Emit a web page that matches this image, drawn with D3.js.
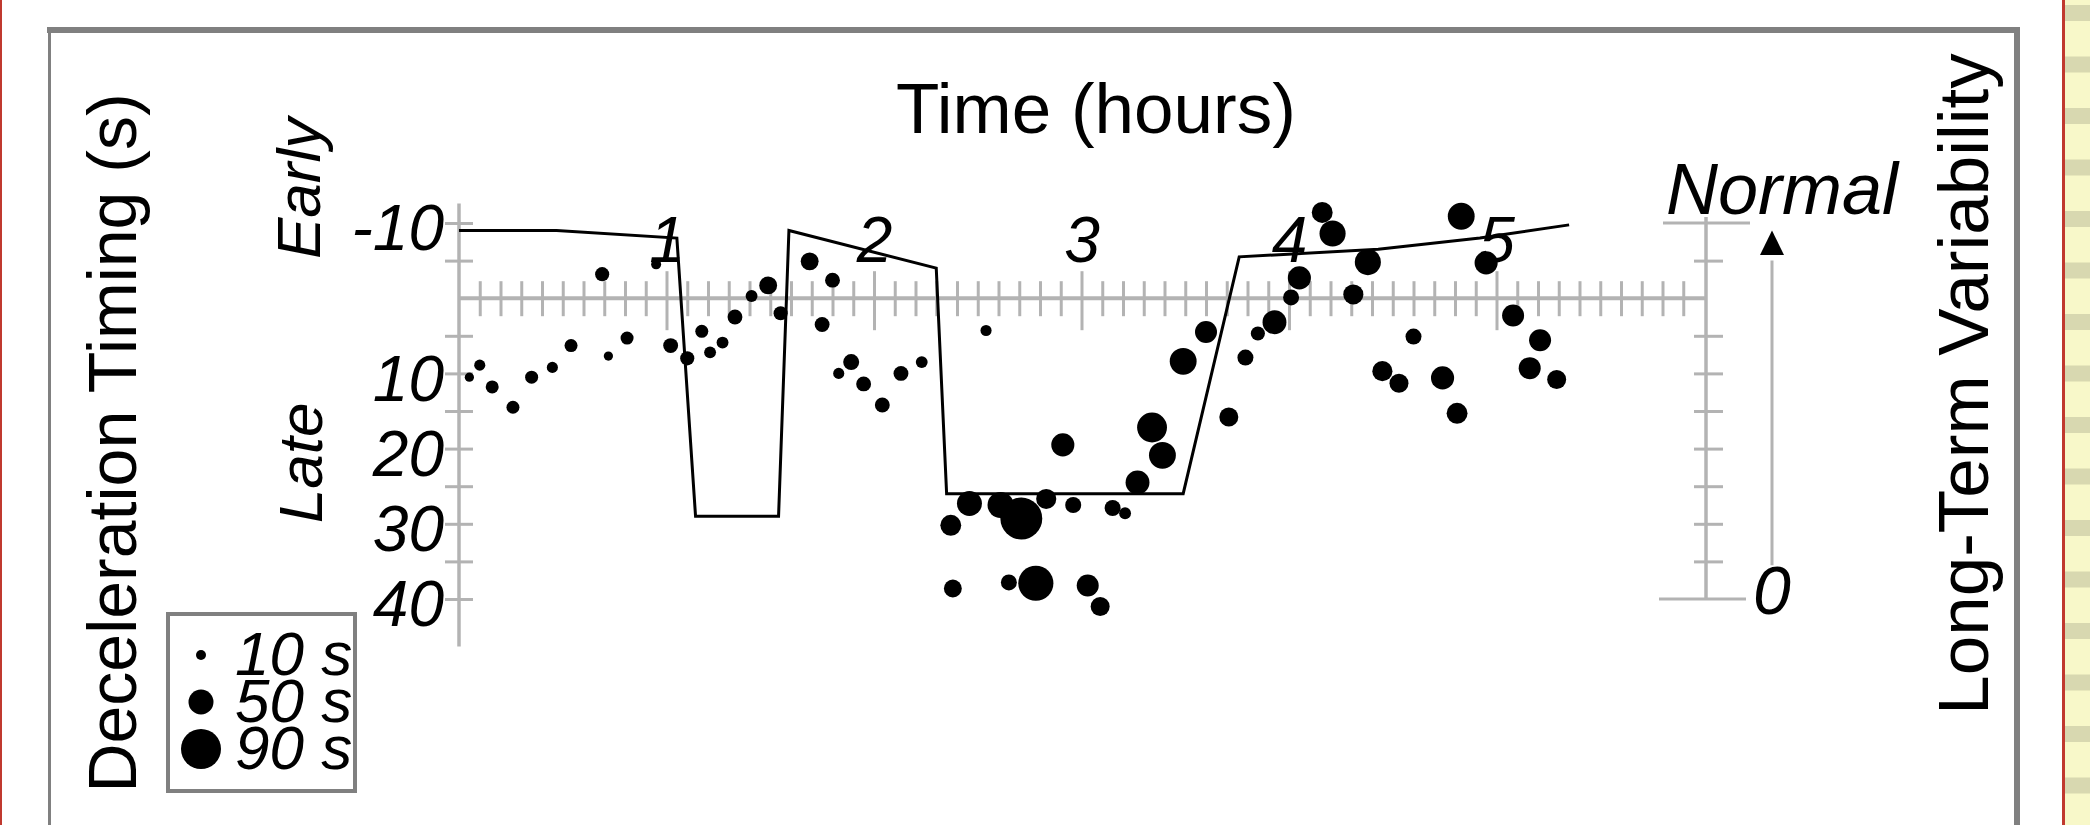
<!DOCTYPE html>
<html>
<head>
<meta charset="utf-8">
<script src="https://cdn.jsdelivr.net/npm/d3@7"></script>
<style>
  body { margin: 0; background: #fff; }
  svg text { font-family: "Liberation Sans", Arial, sans-serif; fill: #000; }
</style>
</head>
<body>
<svg id="chart" width="2090" height="825"></svg>
<script>
// hour labels on the time axis, labelled timing ticks, legend sizes
const hourLabels = [1, 2, 3, 4, 5];
const timingLabels = [-10, 10, 20, 30, 40];
const legendDurations = [10, 50, 90];

// decelerations: time (h), timing (s), duration (s)
const decelTime = [0.05, 0.10, 0.16, 0.26, 0.35, 0.45, 0.54, 0.69, 0.72, 0.81, 0.95,
  1.02, 1.10, 1.17, 1.21, 1.27, 1.33, 1.41, 1.49, 1.55, 1.69, 1.75, 1.80, 1.83, 1.89,
  1.95, 2.04, 2.13, 2.23, 2.54, 2.37, 2.46, 2.61, 2.71, 2.83, 2.96, 3.15, 3.21, 2.91,
  2.38, 2.65, 2.78, 3.03, 3.09, 3.27, 3.34, 3.39, 3.49, 3.60, 3.71, 3.79, 3.85, 3.93,
  4.01, 4.05, 4.16, 4.21, 4.31, 4.38, 4.45, 4.53, 4.60, 4.74, 4.81, 4.83, 4.95, 5.08,
  5.21, 5.16, 5.29];
const decelTiming = [10.5, 8.9, 11.8, 14.5, 10.5, 9.2, 6.3, -3.2, 7.7, 5.3, -4.5,
  6.3, 8.0, 4.4, 7.2, 5.9, 2.5, -0.3, -1.7, 2.0, -4.9, 3.5, -2.4, 10.0, 8.5,
  11.4, 14.2, 10.0, 8.5, 4.3, 30.2, 27.3, 27.5, 29.3, 26.7, 27.5, 27.9, 28.6, 19.5,
  38.6, 37.8, 37.9, 38.2, 41.0, 24.5, 17.2, 20.9, 8.4, 4.5, 15.8, 7.9, 4.7, 3.2,
  -0.1, -2.7, -11.4, -8.6, -0.5, -4.8, 9.7, 11.3, 5.1, 10.6, 15.3, -10.9, -4.7, 2.3,
  5.6, 9.3, 10.8];
const decelDuration = [8, 13, 18, 18, 18, 13, 18, 21, 8, 18, 10,
  23, 21, 18, 15, 15, 23, 15, 31, 21, 31, 23, 23, 13, 26,
  23, 23, 23, 15, 13, 39, 50, 53, 95, 37, 26, 26, 15, 45,
  31, 26, 77, 42, 34, 47, 63, 55, 55, 42, 34, 26, 21, 47,
  26, 45, 39, 53, 37, 53, 37, 34, 26, 45, 39, 55, 45, 42,
  42, 42, 34];

// long-term variability trace: time (h), level (0 = none, 10 = normal)
const ltvTime = [0, 0.47, 1.05, 1.14, 1.54, 1.59, 2.30, 2.35, 3.49, 3.76, 4.43, 4.92, 5.35];
const ltvLevel = [9.8, 9.8, 9.6, 2.2, 2.2, 9.8, 8.8, 2.8, 2.8, 9.1, 9.3, 9.6, 9.95];

const svg = d3.select('#chart');
const axisGrey = '#b3b3b3';
const frameGrey = '#808080';

const x = d3.scaleLinear().domain([0, 6]).range([459, 1704]);
const y = d3.scaleLinear().domain([-10, 40]).range([223, 599]);
const v = d3.scaleLinear().domain([0, 10]).range([599, 223]);
const r = d3.scaleLinear().domain([10, 90]).range([5, 20]);

// page decoration: red margins and striped strip on the right
svg.append('rect').attr('x', 0).attr('y', 0).attr('width', 2).attr('height', 825).attr('fill', '#c0392f');
svg.append('rect').attr('x', 2065).attr('y', 0).attr('width', 25).attr('height', 825).attr('fill', '#f8f8c9');
svg.append('g').selectAll('rect')
  .data(d3.range(0, 17))
  .join('rect')
  .attr('x', 2065).attr('y', i => 5 + i * 51.5)
  .attr('width', 25).attr('height', 16)
  .attr('fill', '#d8d8b0');
svg.append('rect').attr('x', 2062).attr('y', 0).attr('width', 3).attr('height', 825).attr('fill', '#c0392f');

// frame
svg.append('line').attr('x1', 47).attr('x2', 2020).attr('y1', 30).attr('y2', 30)
  .attr('stroke', frameGrey).attr('stroke-width', 6);
svg.append('line').attr('x1', 2017).attr('x2', 2017).attr('y1', 27).attr('y2', 825)
  .attr('stroke', frameGrey).attr('stroke-width', 6);
svg.append('line').attr('x1', 49.5).attr('x2', 49.5).attr('y1', 27).attr('y2', 825)
  .attr('stroke', frameGrey).attr('stroke-width', 3);

// left axis: deceleration timing
const yMarks = d3.range(-10, 41, 5).filter(d => d !== 0);
const yAxis = d3.axisLeft(y)
  .tickValues(yMarks)
  .tickSize(14)
  .tickPadding(1)
  .tickFormat(d => timingLabels.includes(d) ? String(d) : '');
const gy = svg.append('g').attr('transform', `translate(${x(0)},0)`).call(yAxis);
gy.select('.domain').remove();
gy.selectAll('.tick line').attr('x1', 14).attr('stroke', axisGrey).attr('stroke-width', 3);
gy.selectAll('.tick text')
  .attr('font-size', 64).attr('font-style', 'italic').attr('dy', '0.42em')
  .style('font-family', '"Liberation Sans", Arial, sans-serif');
svg.append('line').attr('x1', x(0)).attr('x2', x(0)).attr('y1', y(-12.6)).attr('y2', y(46.3))
  .attr('stroke', axisGrey).attr('stroke-width', 3.5);

// time axis along zero timing
const xMarks = d3.range(1, 60).map(i => i / 10);
const isHour = d => Math.abs(d - Math.round(d)) < 1e-6;
const xAxis = d3.axisBottom(x)
  .tickValues(xMarks)
  .tickSize(0)
  .tickFormat(d => isHour(d) && hourLabels.includes(Math.round(d)) ? String(Math.round(d)) : '');
const gx = svg.append('g').attr('transform', `translate(0,${y(0)})`).call(xAxis);
gx.select('.domain').remove();
gx.selectAll('.tick line')
  .attr('y1', d => isHour(d) ? -27 : -17)
  .attr('y2', d => isHour(d) ? 32 : 18)
  .attr('stroke', axisGrey).attr('stroke-width', 3);
gx.selectAll('.tick text')
  .attr('y', -36).attr('dy', 0)
  .attr('font-size', 64).attr('font-style', 'italic')
  .style('font-family', '"Liberation Sans", Arial, sans-serif');
svg.append('line').attr('x1', x(0)).attr('x2', x(6) + 2).attr('y1', y(0)).attr('y2', y(0))
  .attr('stroke', axisGrey).attr('stroke-width', 4);

// right axis: long-term variability
const rightX = x(6) + 2;
const vMarks = d3.range(1, 10).filter(d => d !== 8);
const vAxis = d3.axisRight(v).tickValues(vMarks).tickSize(17).tickFormat('');
const gv = svg.append('g').attr('transform', `translate(${rightX},0)`).call(vAxis);
gv.select('.domain').remove();
gv.selectAll('.tick line').attr('x1', -12).attr('stroke', axisGrey).attr('stroke-width', 3);
svg.append('line').attr('x1', rightX).attr('x2', rightX).attr('y1', v(10) - 6).attr('y2', v(0))
  .attr('stroke', axisGrey).attr('stroke-width', 3.5);
svg.append('line').attr('x1', rightX - 43).attr('x2', rightX + 44).attr('y1', v(10)).attr('y2', v(10))
  .attr('stroke', axisGrey).attr('stroke-width', 3);
svg.append('line').attr('x1', rightX - 47).attr('x2', rightX + 40).attr('y1', v(0)).attr('y2', v(0))
  .attr('stroke', axisGrey).attr('stroke-width', 3);

// arrow up to "Normal"
const arrowX = rightX + 66;
svg.append('line').attr('x1', arrowX).attr('x2', arrowX).attr('y1', v(0.9)).attr('y2', v(9))
  .attr('stroke', axisGrey).attr('stroke-width', 3);
svg.append('path')
  .attr('d', `M${arrowX},${v(9.8)} L${arrowX - 12},${v(9.15)} L${arrowX + 12},${v(9.15)} Z`)
  .attr('fill', '#000');

svg.append('text').attr('x', rightX - 40).attr('y', v(10) - 9)
  .attr('font-size', 72).attr('font-style', 'italic').text('Normal');
svg.append('text').attr('x', rightX + 47).attr('y', v(0) + 15)
  .attr('font-size', 68).attr('font-style', 'italic').text('0');

// titles
svg.append('text').attr('x', 1096).attr('y', 133).attr('text-anchor', 'middle')
  .attr('font-size', 71).text('Time (hours)');
svg.append('text').attr('transform', 'translate(136,443) rotate(-90)').attr('text-anchor', 'middle')
  .attr('font-size', 68).text('Deceleration Timing (s)');
svg.append('text').attr('transform', 'translate(1988,384) rotate(-90)').attr('text-anchor', 'middle')
  .attr('font-size', 71).text('Long-Term Variability');
svg.append('text').attr('transform', `translate(320,${y(-14.6)}) rotate(-90)`).attr('text-anchor', 'middle')
  .attr('font-size', 62).attr('font-style', 'italic').text('Early');
svg.append('text').attr('transform', `translate(322,${y(21.9)}) rotate(-90)`).attr('text-anchor', 'middle')
  .attr('font-size', 62).attr('font-style', 'italic').text('Late');

// decelerations
const decels = decelTime.map((t, i) => ({ t, timing: decelTiming[i], dur: decelDuration[i] }));
svg.append('g').selectAll('circle')
  .data(decels)
  .join('circle')
  .attr('cx', d => x(d.t))
  .attr('cy', d => y(d.timing))
  .attr('r', d => r(d.dur))
  .attr('fill', '#000');

// long-term variability trace
const ltv = ltvTime.map((t, i) => ({ t, level: ltvLevel[i] }));
svg.append('path')
  .datum(ltv)
  .attr('d', d3.line().x(d => x(d.t)).y(d => v(d.level)))
  .attr('fill', 'none')
  .attr('stroke', '#000')
  .attr('stroke-width', 3);

// legend: one text block, rows are tspans
const legend = svg.append('g');
legend.append('rect').attr('x', 168).attr('y', 614).attr('width', 187).attr('height', 177)
  .attr('fill', '#fff').attr('stroke', frameGrey).attr('stroke-width', 4);
legend.selectAll('circle')
  .data(legendDurations)
  .join('circle')
  .attr('cx', 201).attr('cy', (d, i) => 655 + i * 47)
  .attr('r', d => r(d)).attr('fill', '#000');
legend.append('text')
  .attr('font-size', 62).attr('font-style', 'italic')
  .selectAll('tspan')
  .data(legendDurations)
  .join('tspan')
  .attr('x', 235).attr('y', (d, i) => 675 + i * 47)
  .text(d => `${d} s`);
</script>
</body>
</html>
